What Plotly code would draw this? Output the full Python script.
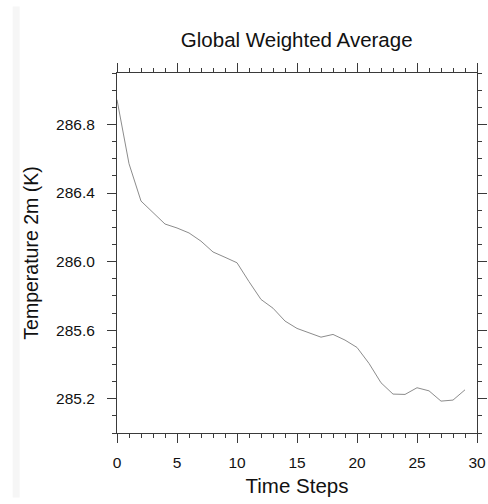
import plotly.graph_objects as go

# Global weighted 2 m temperature per time step
time_steps = list(range(30))
temperature_k = [
    286.944, 286.571, 286.353, 286.287, 286.219, 286.196, 286.167, 286.119,
    286.056, 286.025, 285.993, 285.883, 285.779, 285.728, 285.653, 285.610,
    285.584, 285.559, 285.575, 285.542, 285.499, 285.406, 285.293, 285.227,
    285.225, 285.264, 285.246, 285.186, 285.192, 285.252,
]

x_ticks = [0, 5, 10, 15, 20, 25, 30]
y_ticks = [285.2, 285.6, 286.0, 286.4, 286.8]
y_tick_text = ["285.2", "285.6", "286.0", "286.4", "286.8"]

FONT = "Liberation Sans, Arial, Helvetica, sans-serif"
AXIS_COLOR = "#3a3a3a"

fig = go.Figure()
fig.add_trace(go.Scatter(
    x=time_steps,
    y=temperature_k,
    mode="lines",
    line=dict(color="#8c8c8c", width=1),
    hoverinfo="x+y",
    showlegend=False,
))

axis_common = dict(
    showgrid=False,
    zeroline=False,
    showline=True,
    linecolor=AXIS_COLOR,
    linewidth=1,
    mirror="allticks",
    ticks="outside",
    ticklen=9,
    tickwidth=1,
    tickcolor=AXIS_COLOR,
    automargin=False,
    tickfont=dict(family=FONT, size=15.5, color="#111"),
)

fig.update_layout(
    width=488,
    height=504,
    margin=dict(l=116.5, r=11, t=72.7, b=71.3),
    paper_bgcolor="white",
    plot_bgcolor="white",
    title=dict(
        text="Global Weighted Average",
        x=0.608, xanchor="center",
        y=0.921, yanchor="middle",
        font=dict(family=FONT, size=20.5, color="#111"),
    ),
    xaxis=dict(
        range=[0, 30],
        tickvals=x_ticks,
        ticktext=[str(v) for v in x_ticks],
        minor=dict(dtick=1, tick0=0, ticks="outside", ticklen=4,
                   tickcolor=AXIS_COLOR, tickwidth=1, showgrid=False),
        ticklabelstandoff=6,
        title=dict(text="Time Steps", standoff=9,
                   font=dict(family=FONT, size=20.5, color="#111")),
        **axis_common,
    ),
    yaxis=dict(
        range=[285.0, 287.1],
        tickvals=y_ticks,
        ticktext=y_tick_text,
        minor=dict(dtick=0.1, tick0=285.0, ticks="outside", ticklen=4,
                   tickcolor=AXIS_COLOR, tickwidth=1, showgrid=False),
        ticklabelstandoff=9,
        title=dict(text="Temperature 2m (K)", standoff=12,
                   font=dict(family=FONT, size=19.5, color="#111")),
        **axis_common,
    ),
    shapes=[
        # faint page-edge strip on the left margin
        dict(type="rect", xref="paper", yref="paper",
             x0=-0.2899, x1=-0.2705, y0=-0.179, y1=1.185,
             fillcolor="#f6f6f6", line=dict(width=0), layer="below"),
    ],
)

fig.write_html("out.html")
